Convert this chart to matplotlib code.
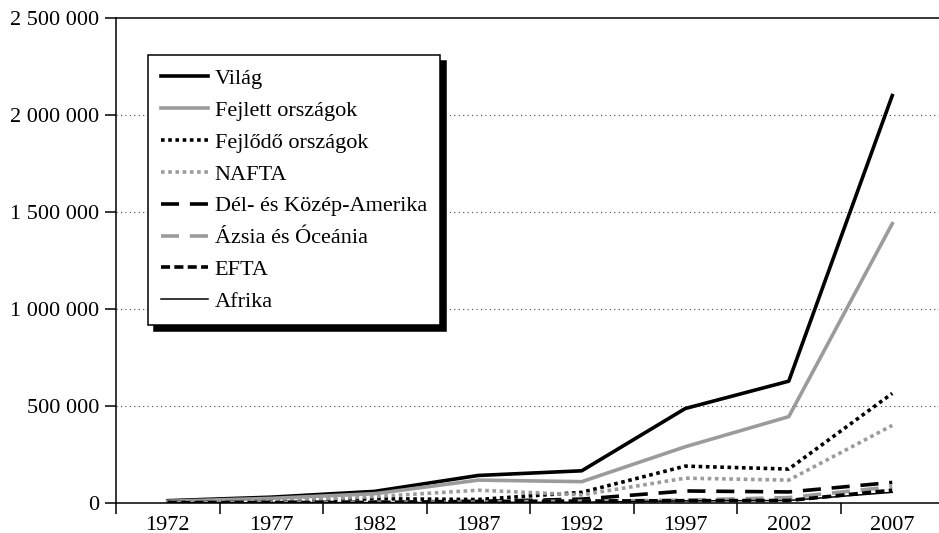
import matplotlib
matplotlib.use('Agg')
import matplotlib.pyplot as plt
import numpy as np
from matplotlib.ticker import FuncFormatter

plt.rcParams['font.family'] = ['Liberation Serif', 'DejaVu Serif']

# adatok (millió USD)
evek = ['1972', '1977', '1982', '1987', '1992', '1997', '2002', '2007']
vilag = [12000, 30000, 60000, 142000, 166000, 487000, 628000, 2100000]
fejlett = [9000, 24000, 48000, 118000, 110000, 290000, 445000, 1440000]
fejlodo = [4000, 8000, 22000, 18000, 55000, 190000, 175000, 565000]
nafta = [4000, 10000, 33000, 66000, 42000, 128000, 118000, 400000]
del_kozep = [2000, 3000, 5000, 8000, 20000, 62000, 57000, 106000]
azsia = [1000, 2000, 4000, 5000, 10000, 15000, 28000, 84000]
efta = [1000, 2000, 3000, 8000, 10000, 12000, 13000, 66000]
afrika = [1000, 1500, 2000, 3000, 4000, 11000, 13000, 55000]

szurke = '#9b9b9b'
x = np.arange(len(evek))

fig = plt.figure(figsize=(9.39, 5.33), dpi=100)
ax = fig.add_axes([116/939, 30/533, 828/939, 485/533])

ax.plot(x, vilag, c='k', lw=2.6, label='Világ')
ax.plot(x, fejlett, c=szurke, lw=2.6, label='Fejlett országok')
ax.plot(x, fejlodo, c='k', lw=2.6, ls=(0, (1, 1)), label='Fejlődő országok')
ax.plot(x, nafta, c=szurke, lw=2.6, ls=(0, (1, 1)), label='NAFTA')
ax.plot(x, del_kozep, c='k', lw=2.6, ls=(0, (5, 3)), label='Dél- és Közép-Amerika')
ax.plot(x, azsia, c=szurke, lw=2.6, ls=(0, (5, 3)), label='Ázsia és Óceánia')
ax.plot(x, efta, c='k', lw=2.6, ls=(0, (2.5, 1.2)), label='EFTA')
ax.plot(x, afrika, c='k', lw=1.1, label='Afrika')

ax.set_xlim(-0.5, 7.5)
ax.set_ylim(0, 2500000)
ax.set_yticks(np.arange(0, 2500001, 500000))
ax.yaxis.set_major_formatter(FuncFormatter(lambda v, p: '{:,}'.format(int(v)).replace(',', ' ')))
ax.set_xticks(x)
ax.set_xticklabels(evek)
ax.set_xticks(np.arange(-0.5, 7.0, 1), minor=True)
ax.tick_params(axis='x', which='major', length=0, pad=9, labelsize=16)
ax.tick_params(axis='x', which='minor', length=8, width=1.1, direction='out')
ax.tick_params(axis='y', length=8, width=1.1, pad=4, labelsize=16)

for v in [500000, 1000000, 1500000, 2000000]:
    ax.axhline(v, color='#444444', lw=0.8, ls=(0, (1, 3)), zorder=0)

ax.spines['right'].set_visible(False)
for s in ['left', 'top', 'bottom']:
    ax.spines[s].set_linewidth(1.1)

leg = ax.legend(loc='upper left', bbox_to_anchor=(32/828, 448/485), borderaxespad=0,
                fontsize=16, fancybox=False, edgecolor='k', framealpha=1,
                handlelength=2.1, handletextpad=0.3, labelspacing=0.51, borderpad=0.6,
                shadow={'ox': 4, 'oy': -4, 'facecolor': 'k', 'edgecolor': 'k', 'alpha': 1})
leg.get_frame().set_linewidth(1.1)

plt.savefig('out.png', dpi=100)
